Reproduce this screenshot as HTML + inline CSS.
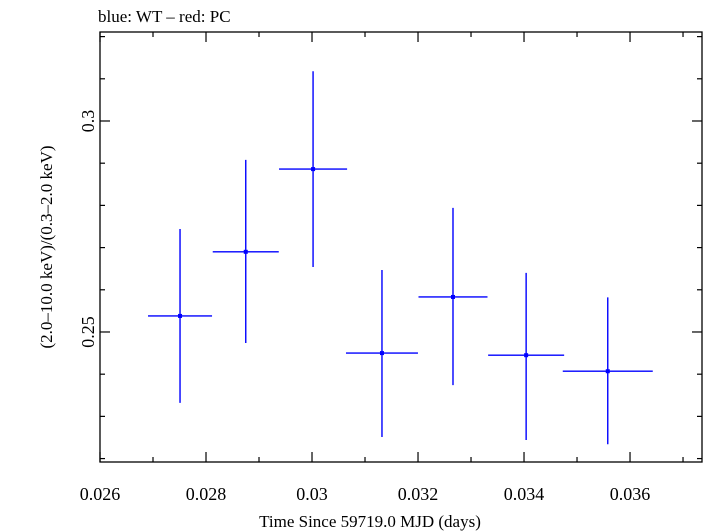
<!DOCTYPE html>
<html><head><meta charset="utf-8"><style>
html,body{margin:0;padding:0;background:#fff;}
svg{display:block;font-family:"Liberation Serif",serif;}
</style></head><body>
<svg id="chart" width="705" height="532" viewBox="0 0 705 532" xmlns="http://www.w3.org/2000/svg">
<text x="98" y="22" font-size="17">blue: WT – red: PC</text>
<rect x="100" y="32" width="602" height="430" fill="none" stroke="#000" stroke-width="1.3"/>
<g id="axes"></g>
<g id="marks"></g>
<text x="370" y="527" font-size="17" text-anchor="middle">Time Since 59719.0 MJD (days)</text>
<text transform="translate(52,247) rotate(-90)" font-size="17" text-anchor="middle">(2.0–10.0 keV)/(0.3–2.0 keV)</text>
</svg>
<script>
const xCenters=[0.02751,0.02875,0.03002,0.03132,0.03266,0.03404,0.03558];
const xErrs=[0.000604,0.000623,0.000642,0.000679,0.000651,0.000717,0.000849];
const yValues=[0.2538,0.2690,0.2886,0.2450,0.2583,0.2445,0.2407];
const yErrsUp=[0.0206,0.0218,0.0232,0.0197,0.0211,0.0195,0.0175];
const yErrsDown=[0.0206,0.0216,0.0232,0.0199,0.0209,0.0201,0.0173];
const xTickLabels=["0.026","0.028","0.03","0.032","0.034","0.036"];
const yTickLabels=["0.25","0.3"];
const L=100,R=702,T=32,B=462;
const X0=0.026,X1=0.037358,Y0=0.21919,Y1=0.32109;
function sx(v){return L+(v-X0)/(X1-X0)*(R-L);}
function sy(v){return B-(v-Y0)/(Y1-Y0)*(B-T);}
const NS="http://www.w3.org/2000/svg";
function mk(tag,attrs,parent){const e=document.createElementNS(NS,tag);for(const k in attrs)e.setAttribute(k,attrs[k]);parent.appendChild(e);return e;}
const axes=document.getElementById('axes');
for(let i=0;i<=11;i++){
  const v=0.026+i*0.001;const x=sx(v);if(x>R)break;
  const major=i%2===0;const len=major?10:5;
  const t1=mk('line',{x1:x,x2:x,y1:B,y2:B-len,stroke:'#000','stroke-width':1.2},axes);
  
  
  const t2=mk('line',{x1:x,x2:x,y1:T,y2:T+len,stroke:'#000','stroke-width':1.2},axes);
  
  
}
xTickLabels.forEach(s=>{
  const t=mk('text',{x:sx(parseFloat(s)),y:500,'font-size':18,'text-anchor':'middle'},axes);
  t.textContent=s;
  
  
});
for(let i=0;i<=10;i++){
  const v=0.22+i*0.01;const y=sy(v);if(y<T)break;
  const major=(i===3||i===8);const len=major?10:5;
  const t1=mk('line',{x1:L,x2:L+len,y1:y,y2:y,stroke:'#000','stroke-width':1.2},axes);
  
  
  const t2=mk('line',{x1:R,x2:R-len,y1:y,y2:y,stroke:'#000','stroke-width':1.2},axes);
  
  
}
yTickLabels.forEach(s=>{
  const y=sy(parseFloat(s));
  const t=mk('text',{transform:`translate(94,${y}) rotate(-90)`,'font-size':18,'text-anchor':'middle'},axes);
  t.textContent=s;
  
  
});
const marks=document.getElementById('marks');
xCenters.forEach((xc,i)=>{
  const g=mk('g',{},marks);
  
  
  const x=sx(xc),y=sy(yValues[i]);
  mk('line',{x1:sx(xc-xErrs[i]),x2:sx(xc+xErrs[i]),y1:y,y2:y,stroke:'#0000ff','stroke-width':1.4},g);
  mk('line',{x1:x,x2:x,y1:sy(yValues[i]+yErrsUp[i]),y2:sy(yValues[i]-yErrsDown[i]),stroke:'#0000ff','stroke-width':1.4},g);
  mk('rect',{x:x-2,y:y-2,width:4,height:4,fill:'#0000ff'},g);
});
</script>
</body></html>
